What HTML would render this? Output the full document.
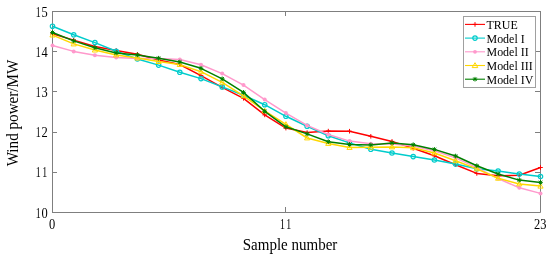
<!DOCTYPE html>
<html><head><meta charset="utf-8"><style>
html,body{margin:0;padding:0;background:#fff;}
body{width:550px;height:255px;overflow:hidden;}
svg{display:block;}
</style></head><body>
<svg width="550" height="255" viewBox="0 0 550 255">
<rect width="550" height="255" fill="#fff"/>
<rect x="52.5" y="11.5" width="488" height="201" fill="#fff" stroke="none"/>
<path d="M52.5 11.5H540.5V212.5H52.5Z" stroke="#7f7f7f" stroke-width="1" fill="none"/>
<path d="M52 11.5H57M540 11.5H535 M52 51.5H57M540 51.5H535 M52 91.5H57M540 91.5H535 M52 132.5H57M540 132.5H535 M52 172.5H57M540 172.5H535 M52 212.5H57M540 212.5H535 M52.5 212V207M52.5 11V16 M285.5 212V207M285.5 11V16 M540.5 212V207M540.5 11V16" stroke="#7f7f7f" stroke-width="1" fill="none"/>
<polyline points="52.5,33.8 73.7,40.1 94.9,46.5 116.2,50.4 137.4,54.3 158.6,59.9 179.8,64.5 201.0,75.6 222.2,87.3 243.5,98.3 264.7,114.9 285.9,128.1 307.1,132.6 328.3,131.1 349.5,131.2 370.8,136.3 392.0,141.4 413.2,148.3 434.4,155.8 455.6,164.7 476.8,173.4 498.1,175.7 519.3,175.3 540.5,167.5" stroke="#ff0000" stroke-width="1.5" fill="none" stroke-linejoin="round"/>
<path d="M50.2 33.8H54.8M52.5 31.5V36.1" stroke="#ff0000" stroke-width="1" fill="none"/>
<path d="M71.4 40.1H76.0M73.7 37.8V42.4" stroke="#ff0000" stroke-width="1" fill="none"/>
<path d="M92.6 46.5H97.2M94.9 44.2V48.8" stroke="#ff0000" stroke-width="1" fill="none"/>
<path d="M113.9 50.4H118.5M116.2 48.1V52.7" stroke="#ff0000" stroke-width="1" fill="none"/>
<path d="M135.1 54.3H139.7M137.4 52.0V56.6" stroke="#ff0000" stroke-width="1" fill="none"/>
<path d="M156.3 59.9H160.9M158.6 57.6V62.2" stroke="#ff0000" stroke-width="1" fill="none"/>
<path d="M177.5 64.5H182.1M179.8 62.2V66.8" stroke="#ff0000" stroke-width="1" fill="none"/>
<path d="M198.7 75.6H203.3M201.0 73.3V77.9" stroke="#ff0000" stroke-width="1" fill="none"/>
<path d="M219.9 87.3H224.5M222.2 85.0V89.6" stroke="#ff0000" stroke-width="1" fill="none"/>
<path d="M241.2 98.3H245.8M243.5 96.0V100.6" stroke="#ff0000" stroke-width="1" fill="none"/>
<path d="M262.4 114.9H267.0M264.7 112.6V117.2" stroke="#ff0000" stroke-width="1" fill="none"/>
<path d="M283.6 128.1H288.2M285.9 125.8V130.4" stroke="#ff0000" stroke-width="1" fill="none"/>
<path d="M304.8 132.6H309.4M307.1 130.3V134.9" stroke="#ff0000" stroke-width="1" fill="none"/>
<path d="M326.0 131.1H330.6M328.3 128.8V133.4" stroke="#ff0000" stroke-width="1" fill="none"/>
<path d="M347.2 131.2H351.8M349.5 128.9V133.5" stroke="#ff0000" stroke-width="1" fill="none"/>
<path d="M368.5 136.3H373.1M370.8 134.0V138.6" stroke="#ff0000" stroke-width="1" fill="none"/>
<path d="M389.7 141.4H394.3M392.0 139.1V143.7" stroke="#ff0000" stroke-width="1" fill="none"/>
<path d="M410.9 148.3H415.5M413.2 146.0V150.6" stroke="#ff0000" stroke-width="1" fill="none"/>
<path d="M432.1 155.8H436.7M434.4 153.5V158.1" stroke="#ff0000" stroke-width="1" fill="none"/>
<path d="M453.3 164.7H457.9M455.6 162.4V167.0" stroke="#ff0000" stroke-width="1" fill="none"/>
<path d="M474.5 173.4H479.1M476.8 171.1V175.7" stroke="#ff0000" stroke-width="1" fill="none"/>
<path d="M495.8 175.7H500.4M498.1 173.4V178.0" stroke="#ff0000" stroke-width="1" fill="none"/>
<path d="M517.0 175.3H521.6M519.3 173.0V177.6" stroke="#ff0000" stroke-width="1" fill="none"/>
<path d="M538.2 167.5H542.8M540.5 165.2V169.8" stroke="#ff0000" stroke-width="1" fill="none"/>
<polyline points="52.5,26.2 73.7,34.8 94.9,42.6 116.2,51.3 137.4,59.0 158.6,65.1 179.8,72.3 201.0,78.6 222.2,86.9 243.5,95.3 264.7,104.7 285.9,116.3 307.1,126.3 328.3,135.7 349.5,142.9 370.8,149.3 392.0,153.0 413.2,156.6 434.4,160.0 455.6,163.9 476.8,168.8 498.1,171.1 519.3,174.1 540.5,176.5" stroke="#00cccc" stroke-width="1.5" fill="none" stroke-linejoin="round"/>
<circle cx="52.5" cy="26.2" r="2.2" stroke="#00cccc" stroke-width="1.2" fill="none"/>
<circle cx="73.7" cy="34.8" r="2.2" stroke="#00cccc" stroke-width="1.2" fill="none"/>
<circle cx="94.9" cy="42.6" r="2.2" stroke="#00cccc" stroke-width="1.2" fill="none"/>
<circle cx="116.2" cy="51.3" r="2.2" stroke="#00cccc" stroke-width="1.2" fill="none"/>
<circle cx="137.4" cy="59.0" r="2.2" stroke="#00cccc" stroke-width="1.2" fill="none"/>
<circle cx="158.6" cy="65.1" r="2.2" stroke="#00cccc" stroke-width="1.2" fill="none"/>
<circle cx="179.8" cy="72.3" r="2.2" stroke="#00cccc" stroke-width="1.2" fill="none"/>
<circle cx="201.0" cy="78.6" r="2.2" stroke="#00cccc" stroke-width="1.2" fill="none"/>
<circle cx="222.2" cy="86.9" r="2.2" stroke="#00cccc" stroke-width="1.2" fill="none"/>
<circle cx="243.5" cy="95.3" r="2.2" stroke="#00cccc" stroke-width="1.2" fill="none"/>
<circle cx="264.7" cy="104.7" r="2.2" stroke="#00cccc" stroke-width="1.2" fill="none"/>
<circle cx="285.9" cy="116.3" r="2.2" stroke="#00cccc" stroke-width="1.2" fill="none"/>
<circle cx="307.1" cy="126.3" r="2.2" stroke="#00cccc" stroke-width="1.2" fill="none"/>
<circle cx="328.3" cy="135.7" r="2.2" stroke="#00cccc" stroke-width="1.2" fill="none"/>
<circle cx="349.5" cy="142.9" r="2.2" stroke="#00cccc" stroke-width="1.2" fill="none"/>
<circle cx="370.8" cy="149.3" r="2.2" stroke="#00cccc" stroke-width="1.2" fill="none"/>
<circle cx="392.0" cy="153.0" r="2.2" stroke="#00cccc" stroke-width="1.2" fill="none"/>
<circle cx="413.2" cy="156.6" r="2.2" stroke="#00cccc" stroke-width="1.2" fill="none"/>
<circle cx="434.4" cy="160.0" r="2.2" stroke="#00cccc" stroke-width="1.2" fill="none"/>
<circle cx="455.6" cy="163.9" r="2.2" stroke="#00cccc" stroke-width="1.2" fill="none"/>
<circle cx="476.8" cy="168.8" r="2.2" stroke="#00cccc" stroke-width="1.2" fill="none"/>
<circle cx="498.1" cy="171.1" r="2.2" stroke="#00cccc" stroke-width="1.2" fill="none"/>
<circle cx="519.3" cy="174.1" r="2.2" stroke="#00cccc" stroke-width="1.2" fill="none"/>
<circle cx="540.5" cy="176.5" r="2.2" stroke="#00cccc" stroke-width="1.2" fill="none"/>
<polyline points="52.5,45.5 73.7,51.4 94.9,55.3 116.2,57.4 137.4,58.5 158.6,58.5 179.8,59.4 201.0,64.7 222.2,73.6 243.5,85.1 264.7,99.6 285.9,113.1 307.1,125.4 328.3,134.5 349.5,141.1 370.8,143.8 392.0,144.0 413.2,146.0 434.4,150.8 455.6,157.9 476.8,167.6 498.1,178.6 519.3,187.7 540.5,193.4" stroke="#ff99cc" stroke-width="1.5" fill="none" stroke-linejoin="round"/>
<circle cx="52.5" cy="45.5" r="2.0" fill="#ff99cc"/>
<circle cx="73.7" cy="51.4" r="2.0" fill="#ff99cc"/>
<circle cx="94.9" cy="55.3" r="2.0" fill="#ff99cc"/>
<circle cx="116.2" cy="57.4" r="2.0" fill="#ff99cc"/>
<circle cx="137.4" cy="58.5" r="2.0" fill="#ff99cc"/>
<circle cx="158.6" cy="58.5" r="2.0" fill="#ff99cc"/>
<circle cx="179.8" cy="59.4" r="2.0" fill="#ff99cc"/>
<circle cx="201.0" cy="64.7" r="2.0" fill="#ff99cc"/>
<circle cx="222.2" cy="73.6" r="2.0" fill="#ff99cc"/>
<circle cx="243.5" cy="85.1" r="2.0" fill="#ff99cc"/>
<circle cx="264.7" cy="99.6" r="2.0" fill="#ff99cc"/>
<circle cx="285.9" cy="113.1" r="2.0" fill="#ff99cc"/>
<circle cx="307.1" cy="125.4" r="2.0" fill="#ff99cc"/>
<circle cx="328.3" cy="134.5" r="2.0" fill="#ff99cc"/>
<circle cx="349.5" cy="141.1" r="2.0" fill="#ff99cc"/>
<circle cx="370.8" cy="143.8" r="2.0" fill="#ff99cc"/>
<circle cx="392.0" cy="144.0" r="2.0" fill="#ff99cc"/>
<circle cx="413.2" cy="146.0" r="2.0" fill="#ff99cc"/>
<circle cx="434.4" cy="150.8" r="2.0" fill="#ff99cc"/>
<circle cx="455.6" cy="157.9" r="2.0" fill="#ff99cc"/>
<circle cx="476.8" cy="167.6" r="2.0" fill="#ff99cc"/>
<circle cx="498.1" cy="178.6" r="2.0" fill="#ff99cc"/>
<circle cx="519.3" cy="187.7" r="2.0" fill="#ff99cc"/>
<circle cx="540.5" cy="193.4" r="2.0" fill="#ff99cc"/>
<polyline points="52.5,35.1 73.7,43.9 94.9,50.0 116.2,54.9 137.4,58.1 158.6,61.6 179.8,64.6 201.0,71.7 222.2,82.3 243.5,95.8 264.7,110.8 285.9,124.3 307.1,138.0 328.3,143.5 349.5,147.5 370.8,147.3 392.0,146.9 413.2,147.7 434.4,153.0 455.6,160.7 476.8,168.9 498.1,178.3 519.3,183.9 540.5,186.1" stroke="#ffd700" stroke-width="1.5" fill="none" stroke-linejoin="round"/>
<path d="M52.5 32.5L55.1 37.0L49.9 37.0Z" stroke="#ffd700" stroke-width="1" fill="none"/>
<path d="M73.7 41.3L76.3 45.9L71.1 45.9Z" stroke="#ffd700" stroke-width="1" fill="none"/>
<path d="M94.9 47.4L97.5 52.0L92.3 52.0Z" stroke="#ffd700" stroke-width="1" fill="none"/>
<path d="M116.2 52.3L118.8 56.9L113.6 56.9Z" stroke="#ffd700" stroke-width="1" fill="none"/>
<path d="M137.4 55.5L140.0 60.0L134.8 60.0Z" stroke="#ffd700" stroke-width="1" fill="none"/>
<path d="M158.6 59.0L161.2 63.5L156.0 63.5Z" stroke="#ffd700" stroke-width="1" fill="none"/>
<path d="M179.8 62.0L182.4 66.5L177.2 66.5Z" stroke="#ffd700" stroke-width="1" fill="none"/>
<path d="M201.0 69.1L203.6 73.7L198.4 73.7Z" stroke="#ffd700" stroke-width="1" fill="none"/>
<path d="M222.2 79.7L224.8 84.2L219.6 84.2Z" stroke="#ffd700" stroke-width="1" fill="none"/>
<path d="M243.5 93.2L246.1 97.8L240.9 97.8Z" stroke="#ffd700" stroke-width="1" fill="none"/>
<path d="M264.7 108.2L267.3 112.8L262.1 112.8Z" stroke="#ffd700" stroke-width="1" fill="none"/>
<path d="M285.9 121.7L288.5 126.2L283.3 126.2Z" stroke="#ffd700" stroke-width="1" fill="none"/>
<path d="M307.1 135.4L309.7 139.9L304.5 139.9Z" stroke="#ffd700" stroke-width="1" fill="none"/>
<path d="M328.3 140.9L330.9 145.4L325.7 145.4Z" stroke="#ffd700" stroke-width="1" fill="none"/>
<path d="M349.5 144.9L352.1 149.4L346.9 149.4Z" stroke="#ffd700" stroke-width="1" fill="none"/>
<path d="M370.8 144.7L373.4 149.2L368.2 149.2Z" stroke="#ffd700" stroke-width="1" fill="none"/>
<path d="M392.0 144.3L394.6 148.8L389.4 148.8Z" stroke="#ffd700" stroke-width="1" fill="none"/>
<path d="M413.2 145.1L415.8 149.7L410.6 149.7Z" stroke="#ffd700" stroke-width="1" fill="none"/>
<path d="M434.4 150.4L437.0 154.9L431.8 154.9Z" stroke="#ffd700" stroke-width="1" fill="none"/>
<path d="M455.6 158.1L458.2 162.7L453.0 162.7Z" stroke="#ffd700" stroke-width="1" fill="none"/>
<path d="M476.8 166.3L479.4 170.8L474.2 170.8Z" stroke="#ffd700" stroke-width="1" fill="none"/>
<path d="M498.1 175.7L500.7 180.2L495.5 180.2Z" stroke="#ffd700" stroke-width="1" fill="none"/>
<path d="M519.3 181.3L521.9 185.8L516.7 185.8Z" stroke="#ffd700" stroke-width="1" fill="none"/>
<path d="M540.5 183.5L543.1 188.1L537.9 188.1Z" stroke="#ffd700" stroke-width="1" fill="none"/>
<polyline points="52.5,32.5 73.7,40.9 94.9,47.7 116.2,52.9 137.4,54.9 158.6,58.2 179.8,62.0 201.0,68.3 222.2,78.8 243.5,92.4 264.7,111.3 285.9,126.8 307.1,133.9 328.3,141.7 349.5,144.4 370.8,144.9 392.0,142.9 413.2,144.7 434.4,149.4 455.6,156.0 476.8,165.7 498.1,174.0 519.3,180.1 540.5,182.4" stroke="#008000" stroke-width="1.5" fill="none" stroke-linejoin="round"/>
<path d="M50.2 32.5H54.8M52.5 30.2V34.8M50.8 30.8L54.2 34.2M50.8 34.2L54.2 30.8" stroke="#008000" stroke-width="1" fill="none"/>
<path d="M71.4 40.9H76.0M73.7 38.6V43.2M72.1 39.2L75.4 42.6M72.1 42.6L75.4 39.2" stroke="#008000" stroke-width="1" fill="none"/>
<path d="M92.6 47.7H97.2M94.9 45.4V50.0M93.3 46.0L96.6 49.4M93.3 49.4L96.6 46.0" stroke="#008000" stroke-width="1" fill="none"/>
<path d="M113.9 52.9H118.5M116.2 50.6V55.2M114.5 51.2L117.8 54.6M114.5 54.6L117.8 51.2" stroke="#008000" stroke-width="1" fill="none"/>
<path d="M135.1 54.9H139.7M137.4 52.6V57.2M135.7 53.2L139.0 56.6M135.7 56.6L139.0 53.2" stroke="#008000" stroke-width="1" fill="none"/>
<path d="M156.3 58.2H160.9M158.6 55.9V60.5M156.9 56.5L160.2 59.9M156.9 59.9L160.2 56.5" stroke="#008000" stroke-width="1" fill="none"/>
<path d="M177.5 62.0H182.1M179.8 59.7V64.3M178.1 60.3L181.5 63.7M178.1 63.7L181.5 60.3" stroke="#008000" stroke-width="1" fill="none"/>
<path d="M198.7 68.3H203.3M201.0 66.0V70.6M199.4 66.6L202.7 70.0M199.4 70.0L202.7 66.6" stroke="#008000" stroke-width="1" fill="none"/>
<path d="M219.9 78.8H224.5M222.2 76.5V81.1M220.6 77.1L223.9 80.5M220.6 80.5L223.9 77.1" stroke="#008000" stroke-width="1" fill="none"/>
<path d="M241.2 92.4H245.8M243.5 90.1V94.7M241.8 90.7L245.1 94.1M241.8 94.1L245.1 90.7" stroke="#008000" stroke-width="1" fill="none"/>
<path d="M262.4 111.3H267.0M264.7 109.0V113.6M263.0 109.6L266.3 113.0M263.0 113.0L266.3 109.6" stroke="#008000" stroke-width="1" fill="none"/>
<path d="M283.6 126.8H288.2M285.9 124.5V129.1M284.2 125.1L287.5 128.5M284.2 128.5L287.5 125.1" stroke="#008000" stroke-width="1" fill="none"/>
<path d="M304.8 133.9H309.4M307.1 131.6V136.2M305.5 132.2L308.8 135.6M305.5 135.6L308.8 132.2" stroke="#008000" stroke-width="1" fill="none"/>
<path d="M326.0 141.7H330.6M328.3 139.4V144.0M326.7 140.0L330.0 143.4M326.7 143.4L330.0 140.0" stroke="#008000" stroke-width="1" fill="none"/>
<path d="M347.2 144.4H351.8M349.5 142.1V146.7M347.9 142.7L351.2 146.1M347.9 146.1L351.2 142.7" stroke="#008000" stroke-width="1" fill="none"/>
<path d="M368.5 144.9H373.1M370.8 142.6V147.2M369.1 143.2L372.4 146.6M369.1 146.6L372.4 143.2" stroke="#008000" stroke-width="1" fill="none"/>
<path d="M389.7 142.9H394.3M392.0 140.6V145.2M390.3 141.2L393.6 144.6M390.3 144.6L393.6 141.2" stroke="#008000" stroke-width="1" fill="none"/>
<path d="M410.9 144.7H415.5M413.2 142.4V147.0M411.5 143.0L414.9 146.4M411.5 146.4L414.9 143.0" stroke="#008000" stroke-width="1" fill="none"/>
<path d="M432.1 149.4H436.7M434.4 147.1V151.7M432.8 147.7L436.1 151.1M432.8 151.1L436.1 147.7" stroke="#008000" stroke-width="1" fill="none"/>
<path d="M453.3 156.0H457.9M455.6 153.7V158.3M454.0 154.3L457.3 157.7M454.0 157.7L457.3 154.3" stroke="#008000" stroke-width="1" fill="none"/>
<path d="M474.5 165.7H479.1M476.8 163.4V168.0M475.2 164.0L478.5 167.4M475.2 167.4L478.5 164.0" stroke="#008000" stroke-width="1" fill="none"/>
<path d="M495.8 174.0H500.4M498.1 171.7V176.3M496.4 172.3L499.7 175.7M496.4 175.7L499.7 172.3" stroke="#008000" stroke-width="1" fill="none"/>
<path d="M517.0 180.1H521.6M519.3 177.8V182.4M517.6 178.4L520.9 181.8M517.6 181.8L520.9 178.4" stroke="#008000" stroke-width="1" fill="none"/>
<path d="M538.2 182.4H542.8M540.5 180.1V184.7M538.8 180.7L542.2 184.1M538.8 184.1L542.2 180.7" stroke="#008000" stroke-width="1" fill="none"/>
<g font-family="Liberation Serif, serif" font-size="14.5" fill="#000000"><text transform="translate(38.10,16.50) scale(0.68,1)" text-anchor="middle">1</text>
<text transform="translate(44.70,16.50) scale(0.86,1)" text-anchor="middle">5</text>
<text transform="translate(38.10,56.70) scale(0.68,1)" text-anchor="middle">1</text>
<text transform="translate(44.70,56.70) scale(0.86,1)" text-anchor="middle">4</text>
<text transform="translate(38.10,96.90) scale(0.68,1)" text-anchor="middle">1</text>
<text transform="translate(44.70,96.90) scale(0.86,1)" text-anchor="middle">3</text>
<text transform="translate(38.10,137.10) scale(0.68,1)" text-anchor="middle">1</text>
<text transform="translate(44.70,137.10) scale(0.86,1)" text-anchor="middle">2</text>
<text transform="translate(38.10,177.30) scale(0.68,1)" text-anchor="middle">1</text>
<text transform="translate(44.70,177.30) scale(0.68,1)" text-anchor="middle">1</text>
<text transform="translate(38.10,217.50) scale(0.68,1)" text-anchor="middle">1</text>
<text transform="translate(44.70,217.50) scale(0.86,1)" text-anchor="middle">0</text>
<text transform="translate(52.20,228.80) scale(0.86,1)" text-anchor="middle">0</text>
<text transform="translate(282.39,228.80) scale(0.68,1)" text-anchor="middle">1</text>
<text transform="translate(288.79,228.80) scale(0.68,1)" text-anchor="middle">1</text>
<text transform="translate(537.00,228.80) scale(0.86,1)" text-anchor="middle">2</text>
<text transform="translate(543.40,228.80) scale(0.86,1)" text-anchor="middle">3</text></g>
<text transform="translate(290,250.3) scale(0.95,1)" text-anchor="middle" font-family="Liberation Serif, serif" font-size="15.8" fill="#000000">Sample number</text>
<text transform="translate(18.0,113.0) rotate(-90) scale(0.96,1)" text-anchor="middle" font-family="Liberation Serif, serif" font-size="15.8" fill="#000000">Wind power/MW</text>
<rect x="463.5" y="16.5" width="72" height="71" fill="#fff" stroke="#a0a0a0" stroke-width="1"/>
<path d="M465 24.4H485" stroke="#ff0000" stroke-width="1.1"/>
<path d="M472.7 24.4H477.3M475.0 22.1V26.7" stroke="#ff0000" stroke-width="1" fill="none"/>
<text transform="translate(486.5,29.0) scale(0.92,1)" font-family="Liberation Serif, serif" font-size="13" fill="#000000">TRUE</text>
<path d="M465 38.1H485" stroke="#00cccc" stroke-width="1.1"/>
<circle cx="475.0" cy="38.1" r="2.2" stroke="#00cccc" stroke-width="1.2" fill="none"/>
<text transform="translate(486.5,42.7) scale(0.92,1)" font-family="Liberation Serif, serif" font-size="13" fill="#000000">Model I</text>
<path d="M465 51.8H485" stroke="#ff99cc" stroke-width="1.1"/>
<circle cx="475.0" cy="51.8" r="1.9" fill="#ff99cc"/>
<text transform="translate(486.5,56.4) scale(0.92,1)" font-family="Liberation Serif, serif" font-size="13" fill="#000000">Model II</text>
<path d="M465 65.5H485" stroke="#ffd700" stroke-width="1.1"/>
<path d="M475.0 62.7L477.8 67.6L472.2 67.6Z" stroke="#ffd700" stroke-width="1" fill="none"/>
<text transform="translate(486.5,70.1) scale(0.92,1)" font-family="Liberation Serif, serif" font-size="13" fill="#000000">Model III</text>
<path d="M465 79.2H485" stroke="#008000" stroke-width="1.1"/>
<path d="M472.7 79.2H477.3M475.0 76.9V81.5M473.3 77.5L476.7 80.9M473.3 80.9L476.7 77.5" stroke="#008000" stroke-width="1" fill="none"/>
<text transform="translate(486.5,83.8) scale(0.92,1)" font-family="Liberation Serif, serif" font-size="13" fill="#000000">Model IV</text>
</svg>
</body></html>
